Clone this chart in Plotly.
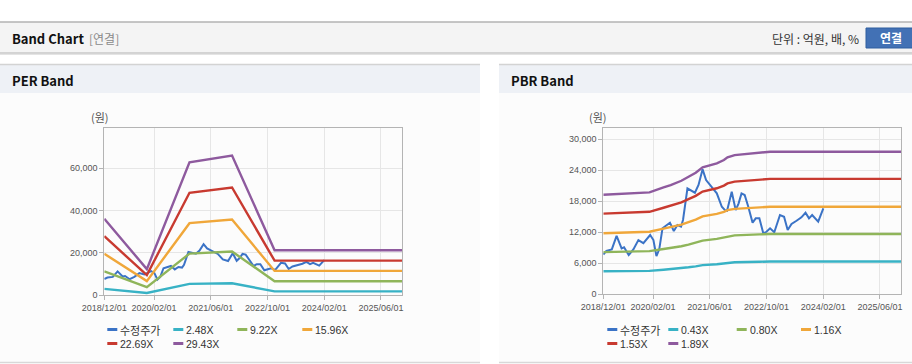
import plotly.graph_objects as go

W, H = 912, 364

# ---------------- data ----------------
series_names = ["수정주가"]
per_multiples = ["2.48X", "9.22X", "15.96X", "22.69X", "29.43X"]
pbr_multiples = ["0.43X", "0.80X", "1.16X", "1.53X", "1.89X"]

price_dates = [
    "2018-12-01", "2018-12-28", "2019-02-12", "2019-03-25", "2019-05-07", "2019-05-28",
    "2019-07-07", "2019-08-16", "2019-09-28", "2019-11-10", "2020-01-07", "2020-02-04",
    "2020-03-01", "2020-03-25", "2020-04-22", "2020-06-25", "2020-07-28", "2020-08-28",
    "2020-09-28", "2020-10-15", "2020-11-22", "2020-12-19", "2021-01-25", "2021-02-25",
    "2021-04-01", "2021-05-01", "2021-06-04", "2021-08-01", "2021-09-13", "2021-10-10",
    "2021-10-28", "2021-12-07", "2022-01-10", "2022-02-04", "2022-03-01", "2022-03-28",
    "2022-04-28", "2022-06-04", "2022-07-01", "2022-08-01", "2022-09-04", "2022-10-01",
    "2022-11-01", "2022-12-07", "2023-01-25", "2023-03-01", "2023-04-01", "2023-05-04",
    "2023-06-16", "2023-07-28", "2023-09-01", "2023-10-01", "2023-10-28", "2023-12-19",
    "2024-02-01",
]
price_values = [
    7700, 8400, 8700, 11300, 8900, 9100,
    7600, 8700, 10500, 9900, 11470, 10500,
    7400, 8700, 12770, 13860, 12250, 13400,
    13100, 14380, 20500, 20180, 19660, 21150,
    24190, 22120, 21150, 19540, 16950, 16300,
    16180, 19850, 16300, 17600, 19540, 19210,
    16950, 13860, 14700, 14700, 11800, 12100,
    12770, 12000, 15340, 15020, 12440, 13600,
    14240, 14900, 15790, 14700, 15340, 14050,
    16640,
]

per_dates = ["2018-12-01", "2019-12-01", "2020-12-01", "2021-12-01", "2022-12-01", "2025-12-01"]
per_2_48 = [3050, 1100, 5400, 5700, 1850, 1850]
per_9_22 = [11340, 3870, 19690, 20700, 6660, 6660]
per_15_96 = [19630, 6700, 34080, 35830, 11520, 11520]
per_22_69 = [27910, 9530, 48440, 50940, 16380, 16380]
per_29_43 = [36200, 12360, 62830, 66070, 21250, 21250]

pbr_dates = [
    "2018-12-01", "2019-11-01", "2020-01-01", "2020-05-01", "2020-07-01", "2020-10-01",
    "2020-12-01", "2021-02-01", "2021-04-01", "2021-08-01", "2021-10-01", "2021-11-01",
    "2022-01-01", "2022-08-01", "2022-11-01", "2025-12-01",
]
pbr_0_43 = [4450, 4500, 4540, 4760, 4860, 5050, 5230, 5400, 5640, 5820, 5970, 6090, 6190, 6300, 6340, 6340]
pbr_0_80 = [8160, 8270, 8350, 8760, 8950, 9300, 9630, 9960, 10400, 10730, 11000, 11220, 11410, 11600, 11680, 11680]
pbr_1_16 = [11830, 11990, 12110, 12700, 12980, 13490, 13970, 14440, 15080, 15560, 15950, 16280, 16540, 16820, 16940, 16940]
pbr_1_53 = [15610, 15820, 15970, 16750, 17120, 17790, 18420, 19050, 19890, 20520, 21040, 21470, 21820, 22190, 22340, 22340]
pbr_1_89 = [19280, 19540, 19730, 20700, 21150, 21980, 22760, 23530, 24570, 25350, 25990, 26520, 26950, 27400, 27590, 27590]

x_tick_dates = ["2018-12-01", "2020-02-01", "2021-06-01", "2022-10-01", "2024-02-01", "2025-06-01"]
per_y_ticks = [0, 20000, 40000, 60000]
pbr_y_ticks = [0, 6000, 12000, 18000, 24000, 30000]

colors = ["#3B73C6", "#38B2C5", "#8FB55A", "#F0A73A", "#C83A30", "#8E5A9E"]

# ---------------- helpers ----------------
def px(x):
    return x / W

def py(y):
    return 1 - y / H

fig = go.Figure()

per_bands = [per_2_48, per_9_22, per_15_96, per_22_69, per_29_43]
pbr_bands = [pbr_0_43, pbr_0_80, pbr_1_16, pbr_1_53, pbr_1_89]

fig.add_trace(go.Scatter(x=price_dates, y=price_values, name=series_names[0], mode="lines",
                         line=dict(color=colors[0], width=2), xaxis="x", yaxis="y", showlegend=False))
for i, (nm, vals) in enumerate(zip(per_multiples, per_bands)):
    fig.add_trace(go.Scatter(x=per_dates, y=vals, name=nm, mode="lines",
                             line=dict(color=colors[i + 1], width=2.4), xaxis="x", yaxis="y", showlegend=False))

fig.add_trace(go.Scatter(x=price_dates, y=price_values, name=series_names[0], mode="lines",
                         line=dict(color=colors[0], width=2), xaxis="x2", yaxis="y2", showlegend=False))
for i, (nm, vals) in enumerate(zip(pbr_multiples, pbr_bands)):
    fig.add_trace(go.Scatter(x=pbr_dates, y=vals, name=nm, mode="lines",
                             line=dict(color=colors[i + 1], width=2.4), xaxis="x2", yaxis="y2", showlegend=False))

tick_font = dict(family="Liberation Sans, Arial, sans-serif", size=9, color="#555555")
axis_common = dict(showline=True, mirror=True, linecolor="#b4b4b4", linewidth=1,
                   showgrid=True, gridcolor="#e6e6e6", gridwidth=1,
                   ticks="outside", ticklen=4, tickcolor="#b4b4b4", tickfont=tick_font,
                   zeroline=False, fixedrange=True, automargin=False)

xrange = ["2018-12-01", "2025-12-01"]
fig.update_layout(
    template="none",
    xaxis=dict(domain=[px(104.3), px(402.3)], type="date", range=xrange,
               tickvals=x_tick_dates, tickformat="%Y/%m/%d", anchor="y", **axis_common),
    yaxis=dict(domain=[py(295.3), py(128.3)], range=[0, 78900], tickvals=per_y_ticks,
               tickformat=",d", anchor="x", **axis_common),
    xaxis2=dict(domain=[px(603.3), px(901.3)], type="date", range=xrange,
                tickvals=x_tick_dates, tickformat="%Y/%m/%d", anchor="y2", **axis_common),
    yaxis2=dict(domain=[py(294.3), py(128.3)], range=[0, 32130], tickvals=pbr_y_ticks,
                tickformat=",d", anchor="x2", **axis_common),
)

shapes = []
def rect(x0, y0, x1, y1, fill, line_color=None, lw=0):
    shapes.append(dict(type="rect", xref="paper", yref="paper", x0=px(x0), x1=px(x1),
                       y0=py(y1), y1=py(y0), fillcolor=fill,
                       line=dict(width=lw, color=line_color or fill), layer="below"))

def hline(x0, x1, y, color, lw=1):
    shapes.append(dict(type="line", xref="paper", yref="paper", x0=px(x0), x1=px(x1),
                       y0=py(y), y1=py(y), line=dict(color=color, width=lw), layer="below"))

# top header bar
rect(0, 22, 912, 52.5, "#f4f4f4")
hline(0, 912, 22, "#b3b3b3", 1.5)
hline(0, 912, 53, "#c6c6c6", 1.5)
hline(0, 912, 54.5, "#e4e4e4", 1.2)
# button
rect(866, 28, 916, 48, "#4271b5", "#2f5e9f", 1)

# panels
for (a, b) in [(0, 480), (499, 912)]:
    rect(a, 93, b, 362, "#fcfcfc")
    rect(a, 65, b, 93, "#eef1f6")
    hline(a, b, 64.5, "#d3d3d3", 1.5)
    hline(a, b, 362.5, "#d8d8d8", 1.5)

annotations = []
def text(x, y, s, size=12, color="#222", anchor="left", bold=False, family="Noto Sans CJK KR"):
    annotations.append(dict(xref="paper", yref="paper", x=px(x), y=py(y),
                            text=("<b>%s</b>" % s) if bold else s, showarrow=False,
                            xanchor=anchor, yanchor="middle", borderpad=0,
                            font=dict(family=family, size=size, color=color)))

text(11, 38.5, "Band Chart", 13, "#111", bold=True)
text(88, 38.5, "[연결]", 12, "#8a8a8a")
text(860, 38.5, "단위 : 억원, 배, %", 12, "#333", anchor="right")
text(891, 37.5, "연결", 12, "#ffffff", anchor="center", bold=True)
text(11, 80, "PER Band", 13, "#111", bold=True)
text(510, 80, "PBR Band", 13, "#111", bold=True)
text(100, 117.5, "(원)", 11, "#555", anchor="center")
text(598, 117.5, "(원)", 11, "#555", anchor="center")

# legends (drawn from names / colors lists)
left_labels = series_names + per_multiples
right_labels = series_names + pbr_multiples
left_pos = [(107.3, 329.5), (173.3, 329.5), (237.3, 329.5), (302.3, 329.5), (107.3, 343.5), (173.3, 343.5)]
right_pos = [(607.3, 329.5), (668.3, 329.5), (736.7, 329.5), (801, 329.5), (607.3, 343.5), (668.3, 343.5)]
for labels, pos in [(left_labels, left_pos), (right_labels, right_pos)]:
    for lab, col, (x, y) in zip(labels, colors, pos):
        shapes.append(dict(type="line", xref="paper", yref="paper", x0=px(x), x1=px(x + 10),
                           y0=py(y), y1=py(y), line=dict(color=col, width=3)))
        is_kr = any(ord(ch) > 0x3000 for ch in lab)
        text(x + 12, y, lab, 11 if is_kr else 10.5, "#333",
             family="Noto Sans CJK KR" if is_kr else "Liberation Sans, Arial, sans-serif")

fig.update_layout(
    width=W, height=H, autosize=False,
    margin=dict(l=0, r=0, t=0, b=0, pad=0),
    paper_bgcolor="#ffffff", plot_bgcolor="#ffffff",
    shapes=shapes, annotations=annotations, showlegend=False,
    font=dict(family="Liberation Sans, Arial, sans-serif"),
)

fig.write_html("out.html", config={"displayModeBar": False},
               post_script="document.body.style.margin='0';document.body.style.padding='0';")
